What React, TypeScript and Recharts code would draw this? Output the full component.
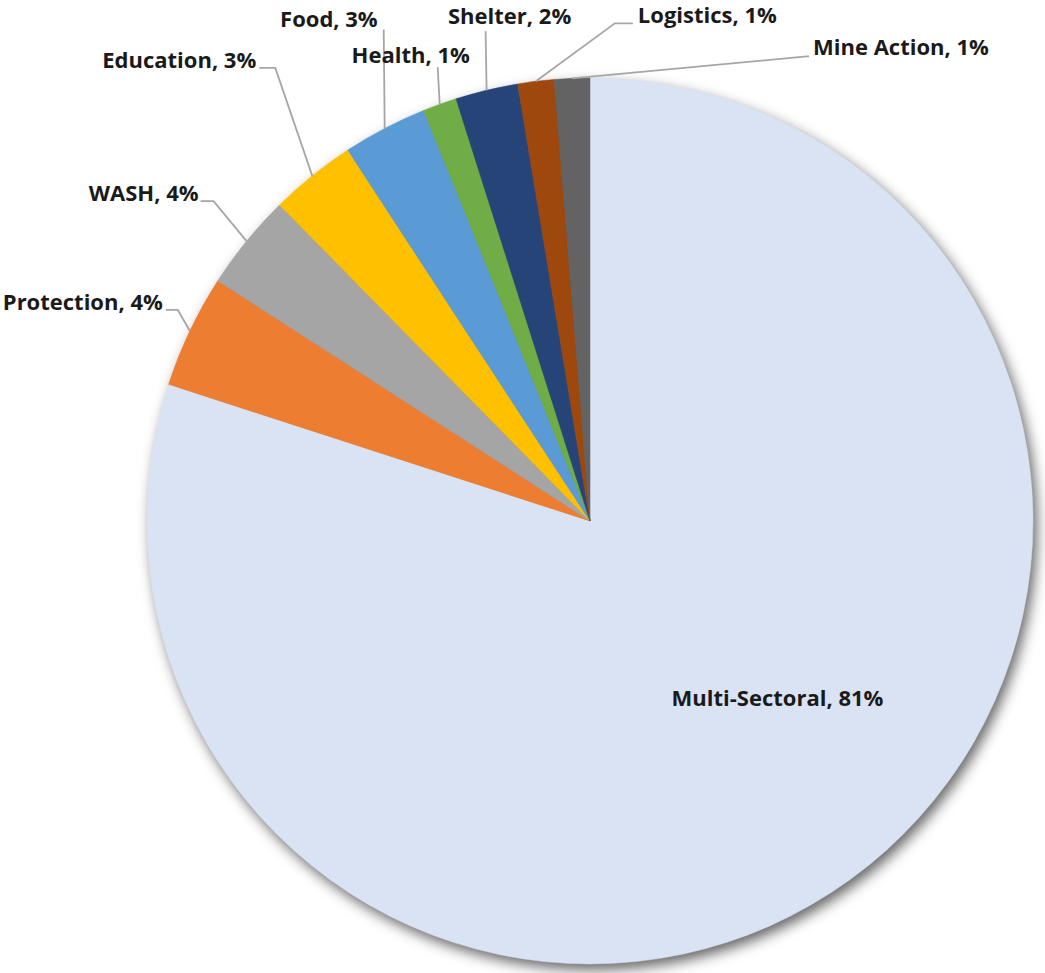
import React from "react";
import { PieChart, Pie, Cell } from "recharts";

// sector shares (slice angles), plus the printed labels
const SECTORS = [
  "Multi-Sectoral",
  "Protection",
  "WASH",
  "Education",
  "Food",
  "Health",
  "Shelter",
  "Logistics",
  "Mine Action",
];
const SHARES = [80.0, 4.13, 3.52, 3.15, 3.08, 1.24, 2.28, 1.32, 1.29];
const SHARE_LABELS = ["81%", "4%", "4%", "3%", "3%", "1%", "2%", "1%", "1%"];

const COLORS = [
  "#DAE3F3",
  "#ED7D31",
  "#A5A5A5",
  "#FFC000",
  "#5B9BD5",
  "#70AD47",
  "#264478",
  "#9E480E",
  "#636363",
];

// hand-placed labels like in the original: offsets from the slice's outer edge point
type Placement = {
  elbow: [number, number] | null; // null = label inside, no leader line
  tail: number;
  text: [number, number];
  anchor: "start" | "middle" | "end";
};
const PLACEMENTS: Placement[] = [
  { elbow: null, tail: 0, text: [-73, -173], anchor: "middle" },
  { elbow: [-12, -21], tail: -12, text: [-3, 0], anchor: "end" },
  { elbow: [-33, -40], tail: -13, text: [-2, 0], anchor: "end" },
  { elbow: [-37, -108], tail: -16, text: [-3, 0], anchor: "end" },
  { elbow: [-1, -99], tail: 0, text: [-6, -2], anchor: "end" },
  { elbow: [-2, -37], tail: 0, text: [-27, -4], anchor: "middle" },
  { elbow: [-1, -59], tail: 0, text: [24, -7], anchor: "middle" },
  { elbow: [79, -58], tail: 18, text: [5, 0], anchor: "start" },
  { elbow: [235, -22], tail: 2, text: [4, -1], anchor: "start" },
];

const RADIAN = Math.PI / 180;
const FONT = "'Open Sans', 'Noto Sans', sans-serif";
const FONT_SIZE = 22;

const CX = 585;
const CY = 516;
const R = 443;

const data = SECTORS.map((name, i) => ({ name, value: SHARES[i] }));

const renderLabel = (props: any) => {
  const { cx, cy, midAngle, outerRadius, index } = props;
  const p = PLACEMENTS[index];
  const ex = cx + outerRadius * Math.cos(-midAngle * RADIAN);
  const ey = cy + outerRadius * Math.sin(-midAngle * RADIAN);
  const text = `${SECTORS[index]}, ${SHARE_LABELS[index]}`;

  const label = (x: number, y: number) => (
    <text
      x={x}
      y={y}
      textAnchor={p.anchor}
      fill="#1a1a1a"
      fontFamily={FONT}
      fontWeight="bold"
      fontSize={FONT_SIZE}
    >
      {text}
    </text>
  );

  if (!p.elbow) return label(ex + p.text[0], ey + p.text[1]);

  const bx = ex + p.elbow[0];
  const by = ey + p.elbow[1];
  const tx = bx + p.tail;
  return (
    <g>
      <polyline
        points={`${ex},${ey} ${bx},${by} ${tx},${by}`}
        fill="none"
        stroke="#A6A6A6"
        strokeWidth={1.8}
      />
      {label(tx + p.text[0], by + p.text[1])}
    </g>
  );
};

export default function App() {
  return (
    <div style={{ width: 1045, height: 973, background: "#fff" }}>
      <style>{`
        body { margin: 0; }
        .pie-shadow { filter: blur(5px); transform: translate(2px, 3px); }
      `}</style>
      <PieChart width={1045} height={973}>
        {/* soft shadow under the pie */}
        <Pie
          className="pie-shadow"
          data={data}
          dataKey="value"
          cx={CX}
          cy={CY}
          outerRadius={R}
          startAngle={90}
          endAngle={-270}
          fill="#000"
          fillOpacity={0.6}
          stroke="none"
          label={false}
          labelLine={false}
          isAnimationActive={false}
        />
        <Pie
          data={data}
          dataKey="value"
          nameKey="name"
          cx={CX}
          cy={CY}
          outerRadius={R}
          startAngle={90}
          endAngle={-270}
          label={renderLabel}
          labelLine={false}
          isAnimationActive={false}
        >
          {data.map((entry, index) => (
            <Cell
              key={`cell-${index}`}
              fill={COLORS[index]}
              stroke={COLORS[index]}
              strokeWidth={0.5}
            />
          ))}
        </Pie>
      </PieChart>
    </div>
  );
}
